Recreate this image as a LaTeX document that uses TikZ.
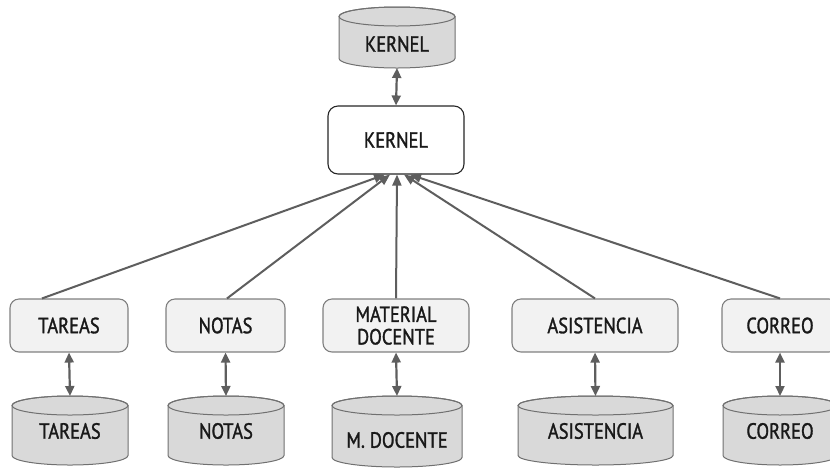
\documentclass[tikz,border=0pt]{standalone}
\usepackage{fontspec}
\setmainfont{PT Sans}[FakeStretch=0.84, FakeBold=1.4]
\usetikzlibrary{arrows.meta}

\definecolor{linegray}{HTML}{5E5E5E}
\definecolor{boxfill}{HTML}{F2F2F2}
\definecolor{boxedge}{HTML}{808080}
\definecolor{cylfill}{HTML}{D9D9D9}
\definecolor{cyledge}{HTML}{707070}

\tikzset{
  txt/.style={font=\fontsize{22}{23.5}\selectfont, text=black!90, inner sep=0pt, align=center},
  modbox/.style={txt, draw=boxedge, fill=boxfill, line width=1.1pt,
                 rounded corners=9pt, minimum height=53pt},
  corebox/.style={txt, draw=black!85, fill=white, line width=1.1pt,
                  rounded corners=10pt, minimum width=136pt, minimum height=68pt},
  conn/.style={draw=linegray, line width=2pt,
               -{Triangle[length=11pt,width=9pt]}},
  dbl/.style={draw=linegray, line width=2.2pt,
              {Triangle[length=10pt,width=9pt]}-{Triangle[length=10pt,width=9pt]}},
  cylbody/.style={fill=cylfill, draw=cyledge, line width=1pt},
}

% database cylinder: name, centre x, top y, bottom y, half width, text y, text
\newcommand\dbcyl[7]{%
  \path[cylbody] (#2-#5,-#3-9.5) -- (#2-#5,-#4+9.5)
    arc[start angle=180, end angle=360, x radius=#5, y radius=9.5]
    -- (#2+#5,-#3-9.5)
    arc[start angle=0, end angle=180, x radius=#5, y radius=9.5] -- cycle;
  \draw[cyledge, line width=1pt] (#2,-#3-9.5) ellipse[x radius=#5, y radius=9.5];
  \node[txt] (#1) at (#2,-#6) {#7};
  \coordinate (#1-top) at (#2,-#3);
  \coordinate (#1-bot) at (#2,-#4);
}

\begin{document}
\begin{tikzpicture}[x=1pt, y=1pt]
  \useasboundingbox (0,0) rectangle (830,-467);

  % core storage and core module
  \dbcyl{kerneldb}{397}{7}{68}{58}{44}{KERNEL}
  \node[corebox] (kernel) at (396,-140) {KERNEL};

  % modules
  \node[modbox, minimum width=118pt] (tareas) at (69,-325.5) {TAREAS};
  \node[modbox, minimum width=119pt] (notas) at (225.5,-325.5) {NOTAS};
  \node[modbox, minimum width=146pt] (material) at (396,-325.5) {MATERIAL\\[-1pt]DOCENTE};
  \node[modbox, minimum width=166pt] (asistencia) at (595,-325.5) {ASISTENCIA};
  \node[modbox, minimum width=116pt] (correo) at (780,-325.5) {CORREO};

  % module storages
  \dbcyl{tareasdb}{70}{396}{465}{58}{431}{TAREAS}
  \dbcyl{notasdb}{226}{396}{465}{58}{431}{NOTAS}
  \dbcyl{materialdb}{397}{396}{467}{65}{440}{M. DOCENTE}
  \dbcyl{asistenciadb}{595.5}{396}{465}{77.5}{431}{ASISTENCIA}
  \dbcyl{correodb}{780}{396}{465}{57}{431}{CORREO}

  % core <-> core storage
  \draw[dbl] (kerneldb-bot) -- (kernel.north);

  % modules -> core
  \draw[conn] ([xshift=-27pt]tareas.north) -- ([xshift=-11pt]kernel.south);
  \draw[conn] ([xshift=1.5pt]notas.north) -- ([xshift=-6pt]kernel.south);
  \draw[conn] (material.north) -- ([xshift=1pt]kernel.south);
  \draw[conn] (asistencia.north) -- ([xshift=8pt]kernel.south);
  \draw[conn] (correo.north) -- ([xshift=14pt]kernel.south);

  % modules <-> storages
  \draw[dbl] (tareas.south) -- (tareasdb-top);
  \draw[dbl] (notas.south) -- (notasdb-top);
  \draw[dbl] (material.south) -- (materialdb-top);
  \draw[dbl] (asistencia.south) -- (asistenciadb-top);
  \draw[dbl] (correo.south) -- (correodb-top);
\end{tikzpicture}
\end{document}
